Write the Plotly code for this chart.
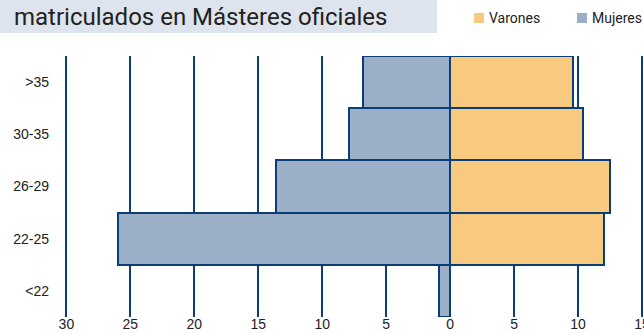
import plotly.graph_objects as go

# Age groups (bottom to top) and enrolment shares per sex
grupos = ["<22", "22-25", "26-29", "30-35", ">35"]
mujeres = [0.9, 26.0, 13.6, 7.9, 6.8]
varones = [0.0, 12.0, 12.5, 10.35, 9.6]

tick_vals = [-30, -25, -20, -15, -10, -5, 0, 5, 10, 15]
tick_text = ["30", "25", "20", "15", "10", "5", "0", "5", "10", "15"]

titulo = "matriculados en Másteres oficiales"
leyenda = ["Varones", "Mujeres"]

COL_M = "#9bb0c7"
COL_V = "#f8ca80"
NAVY = "#0b3e78"
TXT = "#222222"

W, H = 644, 333
ML, MR, MT, MB = 60, 0, 56, 16
PW, PH = W - ML - MR, H - MT - MB


def px_x(p):
    return (p - ML) / PW


def px_y(p):
    return (H - MB - p) / PH


fig = go.Figure()
fig.add_trace(go.Bar(
    y=grupos, x=[-v for v in mujeres], orientation="h", name="Mujeres",
    marker=dict(color=COL_M, line=dict(color=NAVY, width=2)),
    showlegend=False, hoverinfo="skip",
))
fig.add_trace(go.Bar(
    y=grupos, x=varones, orientation="h", name="Varones",
    marker=dict(color=COL_V, line=dict(color=NAVY, width=2)),
    showlegend=False, hoverinfo="skip",
))

shapes = [
    # title band
    dict(type="rect", xref="paper", yref="paper",
         x0=px_x(0), x1=px_x(437), y0=px_y(33), y1=px_y(0),
         fillcolor="#dee4ed", line=dict(width=0), layer="below"),
    # legend swatches
    dict(type="rect", xref="paper", yref="paper",
         x0=px_x(474), x1=px_x(484), y0=px_y(23), y1=px_y(13),
         fillcolor=COL_V, line=dict(width=0)),
    dict(type="rect", xref="paper", yref="paper",
         x0=px_x(577), x1=px_x(587), y0=px_y(23), y1=px_y(13),
         fillcolor=COL_M, line=dict(width=0)),
]

annotations = [
    dict(text=titulo, xref="paper", yref="paper", x=px_x(12), y=px_y(17),
         xanchor="left", yanchor="middle", showarrow=False,
         font=dict(family="Liberation Sans Narrow, Roboto, Arial", size=24, color=TXT)),
    dict(text=leyenda[0], xref="paper", yref="paper", x=px_x(487), y=px_y(18),
         xanchor="left", yanchor="middle", showarrow=False,
         font=dict(family="Liberation Sans Narrow, Roboto, Arial", size=14, color=TXT)),
    dict(text=leyenda[1], xref="paper", yref="paper", x=px_x(590), y=px_y(18),
         xanchor="left", yanchor="middle", showarrow=False,
         font=dict(family="Liberation Sans Narrow, Roboto, Arial", size=14, color=TXT)),
]

fig.update_layout(
    width=W, height=H,
    margin=dict(l=ML, r=MR, t=MT, b=MB, pad=0, autoexpand=False),
    paper_bgcolor="white", plot_bgcolor="white",
    barmode="relative", bargap=0,
    shapes=shapes, annotations=annotations,
    font=dict(family="Liberation Sans, Arial", color=TXT),
    xaxis=dict(
        range=[-30.5, 15.15], tickvals=tick_vals, ticktext=tick_text,
        showgrid=True, gridcolor=NAVY, gridwidth=2, zeroline=False,
        showline=False, ticks="", tickfont=dict(size=14, color=TXT),
        ticklabelstandoff=-3, ticklabeloverflow="allow", automargin=False,
        fixedrange=True,
    ),
    yaxis=dict(
        categoryorder="array", categoryarray=grupos, range=[-0.5, 4.5],
        showgrid=False, zeroline=False, showline=False, ticks="",
        tickfont=dict(size=14, color=TXT), ticklabelstandoff=10,
        automargin=False, fixedrange=True,
    ),
)

fig.write_html("out.html", config={"displayModeBar": False})
